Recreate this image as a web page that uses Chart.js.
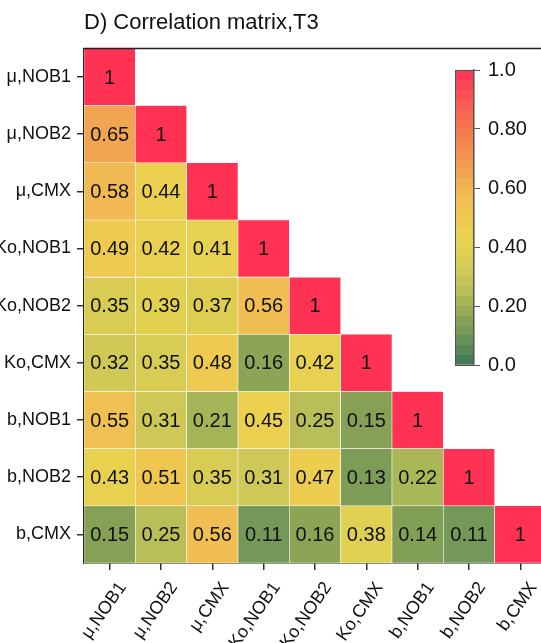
<!DOCTYPE html>
<html>
<head>
<meta charset="utf-8">
<script src="https://cdn.jsdelivr.net/npm/chart.js@4/dist/chart.umd.min.js"></script>
<style>
  html, body { margin: 0; padding: 0; background: #fff; overflow: hidden; }
  #wrap { position: relative; width: 541px; height: 643px; overflow: hidden; }
  #main { position: absolute; left: 0; top: 0; width: 548px; height: 643px; }
  #cbar { position: absolute; left: 440px; top: 50px; width: 101px; height: 335px; }
</style>
</head>
<body>
<div id="wrap">
  <canvas id="main" width="548" height="643"></canvas>
  <canvas id="cbar" width="101" height="335"></canvas>
</div>
<script>
// Variables (rows top to bottom, columns left to right)
const variables = ['μ,NOB1', 'μ,NOB2', 'μ,CMX', 'Ko,NOB1', 'Ko,NOB2', 'Ko,CMX', 'b,NOB1', 'b,NOB2', 'b,CMX'];

// Lower-triangular correlation coefficients, one array per row
const r_muNOB1 = [1];
const r_muNOB2 = [0.65, 1];
const r_muCMX  = [0.58, 0.44, 1];
const r_KoNOB1 = [0.49, 0.42, 0.41, 1];
const r_KoNOB2 = [0.35, 0.39, 0.37, 0.56, 1];
const r_KoCMX  = [0.32, 0.35, 0.48, 0.16, 0.42, 1];
const r_bNOB1  = [0.55, 0.31, 0.21, 0.45, 0.25, 0.15, 1];
const r_bNOB2  = [0.43, 0.51, 0.35, 0.31, 0.47, 0.13, 0.22, 1];
const r_bCMX   = [0.15, 0.25, 0.56, 0.11, 0.16, 0.38, 0.14, 0.11, 1];
const corrRows = [r_muNOB1, r_muNOB2, r_muCMX, r_KoNOB1, r_KoNOB2, r_KoCMX, r_bNOB1, r_bNOB2, r_bCMX];

// Colour bar ticks
const cbTickValues = [0, 0.2, 0.4, 0.6, 0.8, 1.0];
const cbTickLabels = ['0.0', '0.20', '0.40', '0.60', '0.80', '1.0'];

// Green -> yellow -> orange -> red colour map
const cmapStops = [
  [0.00, [61, 117, 88]],
  [0.10, [112, 150, 88]],
  [0.15, [134, 161, 86]],
  [0.20, [160, 177, 86]],
  [0.25, [184, 191, 88]],
  [0.30, [202, 199, 88]],
  [0.35, [216, 204, 84]],
  [0.40, [229, 210, 80]],
  [0.45, [236, 208, 80]],
  [0.50, [239, 200, 80]],
  [0.55, [240, 192, 82]],
  [0.60, [241, 181, 82]],
  [0.65, [242, 165, 80]],
  [0.70, [243, 150, 80]],
  [0.80, [246, 120, 80]],
  [0.90, [251, 86, 84]],
  [1.00, [255, 50, 84]]
];
function colorFor(v) {
  v = Math.max(0, Math.min(1, v));
  for (let k = 1; k < cmapStops.length; k++) {
    const [v1, c1] = cmapStops[k];
    const [v0, c0] = cmapStops[k - 1];
    if (v <= v1) {
      const t = (v - v0) / (v1 - v0);
      const c = c0.map((a, i) => Math.round(a + (c1[i] - a) * t));
      return `rgb(${c[0]},${c[1]},${c[2]})`;
    }
  }
  const c = cmapStops[cmapStops.length - 1][1];
  return `rgb(${c[0]},${c[1]},${c[2]})`;
}

const FONT = "'Liberation Sans', Arial, Helvetica, sans-serif";
Chart.defaults.font.family = FONT;
Chart.defaults.color = '#111';

// One floating-bar dataset per row: each cell spans [row, row + 1] on the y scale
const datasets = corrRows.map((vals, i) => ({
  label: variables[i],
  values: vals,
  data: variables.map((_, j) => (j < vals.length ? [i, i + 1] : null)),
  backgroundColor: ctx => colorFor(vals[ctx.dataIndex]),
  borderColor: '#ffffff',
  borderWidth: 0.6,
  borderSkipped: false,
  grouped: false,
  barPercentage: 1,
  categoryPercentage: 1
}));

// Writes each coefficient in the middle of its cell
const cellLabels = {
  id: 'cellLabels',
  afterDatasetsDraw(chart) {
    const ctx = chart.ctx;
    ctx.save();
    ctx.font = `20px ${FONT}`;
    ctx.fillStyle = '#111';
    ctx.textAlign = 'center';
    ctx.textBaseline = 'middle';
    chart.data.datasets.forEach((ds, di) => {
      const meta = chart.getDatasetMeta(di);
      meta.data.forEach((el, j) => {
        if (ds.data[j] == null) return;
        const v = ds.values[j];
        const txt = v === 1 ? '1' : v.toFixed(2);
        ctx.fillText(txt, el.x, (el.y + el.base) / 2 + 1);
      });
    });
    ctx.restore();
  }
};

// Closes the frame along the top of the plot area
const topFrame = {
  id: 'topFrame',
  afterDraw(chart) {
    const { ctx, chartArea } = chart;
    ctx.save();
    ctx.strokeStyle = '#222';
    ctx.lineWidth = 1.5;
    ctx.beginPath();
    ctx.moveTo(chartArea.left - 0.75, chartArea.top);
    ctx.lineTo(chartArea.right, chartArea.top);
    ctx.stroke();
    ctx.restore();
  }
};

new Chart(document.getElementById('main'), {
  type: 'bar',
  data: { labels: variables, datasets },
  options: {
    responsive: false,
    animation: false,
    layout: { padding: { left: 0, right: 2, top: 0, bottom: 0 } },
    plugins: {
      legend: { display: false },
      tooltip: { enabled: false },
      title: {
        display: true,
        text: 'D) Correlation matrix,T3',
        align: 'start',
        fullSize: false,
        color: '#111',
        font: { size: 22, weight: 'normal' },
        padding: { top: 10, bottom: 12 }
      }
    },
    scales: {
      x: {
        type: 'category',
        offset: true,
        grid: { drawOnChartArea: false, offset: false, drawTicks: true, tickLength: 7, color: '#333', lineWidth: 1.5 },
        border: { display: true, color: '#222', width: 1.5 },
        ticks: {
          autoSkip: false, minRotation: 55, maxRotation: 55,
          font: { size: 18 }, color: '#111', padding: 8, labelOffset: 13
        },
        afterFit(scale) { scale.height = 80; }
      },
      y: {
        type: 'linear',
        min: 0, max: 9,
        reverse: true,
        afterBuildTicks(scale) { scale.ticks = variables.map((_, i) => ({ value: i + 0.5 })); },
        grid: { drawOnChartArea: false, drawTicks: true, tickLength: 7, color: '#333', lineWidth: 1.5 },
        border: { display: true, color: '#222', width: 1.5 },
        ticks: {
          font: { size: 18 }, color: '#111', padding: 6,
          callback: v => variables[Math.floor(v)]
        },
        afterFit(scale) { scale.width = 84; }
      }
    }
  },
  plugins: [cellLabels, topFrame]
});

// Colour bar: one floating bar spanning 0..1, filled with the colour map in discrete bands
const CB_BANDS = 30;
const cbarOutline = {
  id: 'cbarOutline',
  afterDraw(chart) {
    const { ctx, chartArea } = chart;
    ctx.save();
    ctx.strokeStyle = '#555';
    ctx.lineWidth = 1;
    ctx.strokeRect(chartArea.left + 0.5, chartArea.top + 0.5, chartArea.right - chartArea.left - 1, chartArea.bottom - chartArea.top);
    ctx.restore();
  }
};

new Chart(document.getElementById('cbar'), {
  type: 'bar',
  data: {
    labels: ['r'],
    datasets: [{
      data: [[0, 1]],
      backgroundColor(ctx) {
        const ca = ctx.chart.chartArea;
        if (!ca) return colorFor(0.5);
        const y = ctx.chart.scales.y;
        const g = ctx.chart.ctx.createLinearGradient(0, y.getPixelForValue(0), 0, y.getPixelForValue(1));
        for (let k = 0; k < CB_BANDS; k++) {
          const c = colorFor((k + 0.5) / CB_BANDS);
          g.addColorStop(k / CB_BANDS, c);
          g.addColorStop((k + 1) / CB_BANDS, c);
        }
        return g;
      },
      borderWidth: 0,
      barPercentage: 1,
      categoryPercentage: 1
    }]
  },
  options: {
    responsive: false,
    animation: false,
    layout: { padding: { left: 15, right: 0, top: 20, bottom: 20 } },
    plugins: { legend: { display: false }, tooltip: { enabled: false } },
    scales: {
      x: { display: false, offset: true },
      y: {
        position: 'right',
        min: 0, max: 1,
        afterBuildTicks(scale) { scale.ticks = cbTickValues.map(v => ({ value: v })); },
        grid: { drawOnChartArea: false, drawTicks: true, tickLength: 6, color: '#555', lineWidth: 1 },
        border: { display: true, color: '#444', width: 1.5 },
        ticks: {
          font: { size: 20 }, color: '#111', padding: 8,
          callback: (v, i) => cbTickLabels[i]
        },
        afterFit(scale) { scale.width = 67; }
      }
    }
  },
  plugins: [cbarOutline]
});
</script>
</body>
</html>
